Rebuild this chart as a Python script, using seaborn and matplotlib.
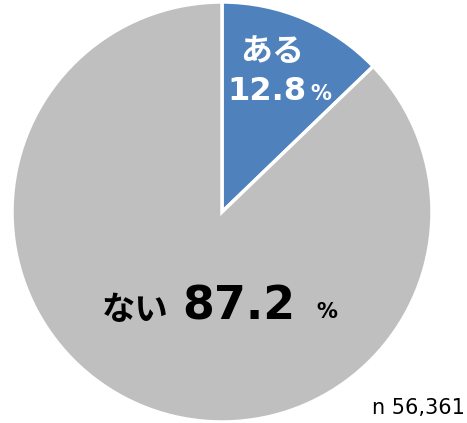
import matplotlib
matplotlib.use("Agg")
import matplotlib.pyplot as plt
import seaborn as sns

labels = ["ある", "ない"]
values = [12.8, 87.2]
colors = ["#4F81BD", "#BFBFBF"]
n_label = "n 56,361"

sns.set_theme(style="white")
plt.rcParams['font.family'] = ['DejaVu Sans', 'Noto Sans CJK JP']

W, H = 467, 423
fig = plt.figure(figsize=(W / 100, H / 100), dpi=100)
cx, cy, r = 222, 212, 210
ax = fig.add_axes([(cx - r) / W, (H - cy - r) / H, 2 * r / W, 2 * r / H])
ax.pie(values, colors=colors, startangle=90, counterclock=False, radius=1,
       wedgeprops=dict(edgecolor="white", linewidth=2.5))
ax.set_xlim(-1, 1)
ax.set_ylim(-1, 1)
ax.set_aspect("equal")
ax.axis("off")


def t(x, y, s, **kw):
    fig.text(x / W, 1 - y / H, s, transform=fig.transFigure, **kw)


# ある 12.8%
t(272, 61, labels[0], color="white", fontsize=23, fontweight="bold", ha="center", va="baseline")
t(227, 100, f"{values[0]}", color="white", fontsize=23, fontweight="bold", ha="left", va="baseline")
t(310, 100, "%", color="white", fontsize=15, fontweight="bold", ha="left", va="baseline")

# ない 87.2 %
t(102, 320, labels[1], color="black", fontsize=24, fontweight="bold", ha="left", va="baseline")
t(182, 320, f"{values[1]}", color="black", fontsize=33, fontweight="bold", ha="left", va="baseline")
t(316, 318, "%", color="black", fontsize=15, fontweight="bold", ha="left", va="baseline")

t(465, 414, n_label, color="black", fontsize=15, ha="right", va="baseline")

fig.savefig("out.png", dpi=100)
